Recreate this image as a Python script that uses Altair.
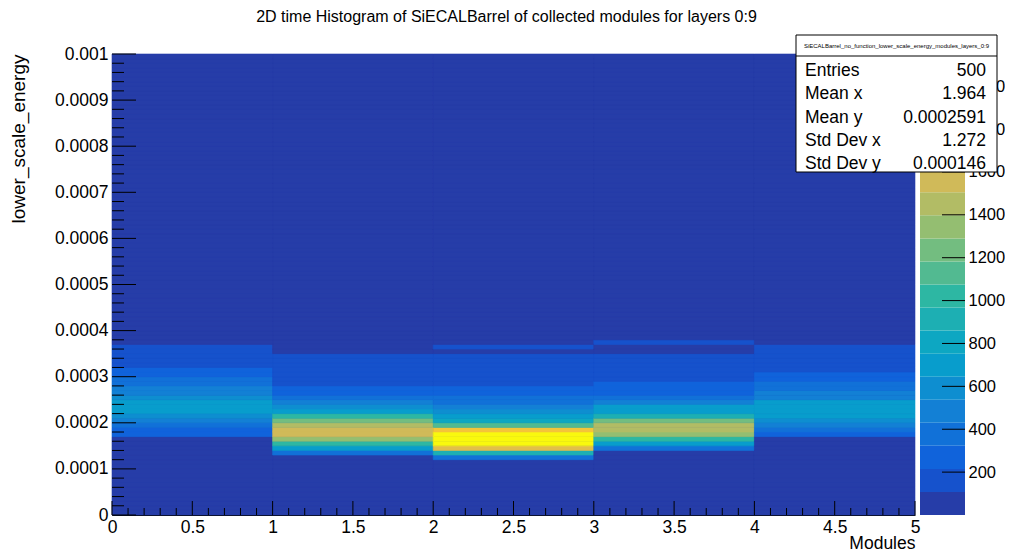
import altair as alt
import numpy as np
import pandas as pd

# ---------------- texts ----------------
TITLE = "2D time Histogram of SiECALBarrel of collected modules for layers 0:9"
HIST_NAME = "SiECALBarrel_no_function_lower_scale_energy_modules_layers_0:9"
X_TITLE = "Modules"
Y_TITLE = "lower_scale_energy"

# ---------------- histogram layout ----------------
N_MODULES = 5
N_YBINS = 100
Y_MIN, Y_MAX = 0.0, 0.001
Z_MIN, Z_MAX = 0.0, 2150.0
N_CONTOURS = 20

# bin contents per module (x bin), listed upward from the first filled y bin
mod0_first_bin = 17
mod0_counts = [270, 270, 380, 490, 590, 700, 710, 690, 590, 490, 480, 380, 370, 270, 260,
               160, 150, 160, 150, 140]
mod1_first_bin = 13
mod1_counts = [380, 700, 1020, 1340, 1570, 1550, 1420, 1240, 980, 710, 600, 490, 380, 270,
               265, 170, 160, 165, 150, 160, 155, 150]
mod2_first_bin = 12
mod2_counts = [380, 915, 1670, 2100, 2120, 2080, 1780, 1130, 800, 700, 590, 490, 380, 370,
               270, 260, 160, 150, 165, 155, 160, 150, 145, 0, 180]
mod3_first_bin = 14
mod3_counts = [390, 700, 1020, 1350, 1460, 1440, 1200, 900, 700, 650, 480, 420, 280, 270,
               250, 170, 160, 150, 160, 155, 150, 0, 0, 160]
mod4_first_bin = 17
mod4_counts = [270, 380, 490, 590, 700, 710, 690, 680, 520, 480, 380, 370, 270, 260, 160,
               150, 155, 165, 150, 145]

# axis tick labels
x_tick_labels = [0, 0.5, 1, 1.5, 2, 2.5, 3, 3.5, 4, 4.5, 5]
y_tick_labels = [0, 0.0001, 0.0002, 0.0003, 0.0004, 0.0005, 0.0006, 0.0007, 0.0008, 0.0009, 0.001]
z_tick_labels = [200, 400, 600, 800, 1000, 1200, 1400, 1600, 1800, 2000]

# statistics box
stat_names = ["Entries", "Mean x", "Mean y", "Std Dev x", "Std Dev y"]
stat_values = ["500", "1.964", "0.0002591", "1.272", "0.000146"]

# ---------------- palette (ROOT kBird, 20 contours) ----------------
stops = [0.0000, 0.1250, 0.2500, 0.3750, 0.5000, 0.6250, 0.7500, 0.8750, 1.0000]
red = [0.2082, 0.0592, 0.0780, 0.0232, 0.1802, 0.5301, 0.8186, 0.9956, 0.9764]
green = [0.1664, 0.3599, 0.5041, 0.6419, 0.7178, 0.7492, 0.7328, 0.7862, 0.9832]
blue = [0.5293, 0.8684, 0.8385, 0.7914, 0.6425, 0.4662, 0.3499, 0.1968, 0.0539]


def gradient(n=255):
    cols = []
    for g in range(1, len(stops)):
        nc = int(np.floor(n * stops[g]) - np.floor(n * stops[g - 1]))
        for c in range(nc):
            r = red[g - 1] + c * (red[g] - red[g - 1]) / nc
            gg = green[g - 1] + c * (green[g] - green[g - 1]) / nc
            b = blue[g - 1] + c * (blue[g] - blue[g - 1]) / nc
            cols.append("#%02x%02x%02x" % (int(r * 255), int(gg * 255), int(b * 255)))
    return cols


grad = gradient()
palette = [grad[int((i + 0.99) * len(grad) / N_CONTOURS)] for i in range(N_CONTOURS)]

# ---------------- tables ----------------
modules = [(mod0_first_bin, mod0_counts), (mod1_first_bin, mod1_counts),
           (mod2_first_bin, mod2_counts), (mod3_first_bin, mod3_counts),
           (mod4_first_bin, mod4_counts)]
yw = (Y_MAX - Y_MIN) / N_YBINS
rows = []
for m, (first, counts) in enumerate(modules):
    for j in range(N_YBINS):
        k = j - first
        z = counts[k] if 0 <= k < len(counts) else 0
        rows.append({"x0": m, "x1": m + 1, "y0": Y_MIN + j * yw, "y1": Y_MIN + (j + 1) * yw, "z": z})
hist_df = pd.DataFrame(rows)

zw = (Z_MAX - Z_MIN) / N_CONTOURS
cbar_df = pd.DataFrame({
    "lo": [Z_MIN + i * zw for i in range(N_CONTOURS)],
    "hi": [Z_MIN + (i + 1) * zw for i in range(N_CONTOURS)],
    "z": [Z_MIN + (i + 0.5) * zw for i in range(N_CONTOURS)],
})

y_minor = [round(i * 0.00002, 6) for i in range(51) if i % 5 != 0]
x_minor = [round(i * 0.1, 3) for i in range(51) if i % 5 != 0]

stats_df = pd.DataFrame({"name": stat_names, "value": stat_values, "row": list(range(len(stat_names)))})

# ---------------- chart ----------------
W, H = 803, 461
FONT = "Liberation Sans"
FS = 17.5

zscale = alt.Scale(type="quantize", domain=[Z_MIN, Z_MAX], range=palette, nice=False)


def xscale():
    return alt.Scale(domain=[0, N_MODULES], nice=False, zero=False)


def yscale():
    return alt.Scale(domain=[Y_MIN, Y_MAX], nice=False, zero=False)


def zaxis_scale():
    return alt.Scale(domain=[Z_MIN, Z_MAX], nice=False, zero=False)


heat = alt.Chart(hist_df).mark_rect(strokeWidth=0.6).encode(
    x=alt.X("x0:Q", scale=xscale(),
            axis=alt.Axis(orient="bottom", values=x_tick_labels, format="~g", title=X_TITLE,
                          ticks=False, labelPadding=3, labelFontSize=FS, titleFontSize=17.5,
                          titleX=W, titleY=28, titleAlign="right", titleBaseline="middle",
                          labelFlush=False)),
    x2="x1:Q",
    y=alt.Y("y0:Q", scale=yscale(),
            axis=alt.Axis(orient="left", values=y_tick_labels, format="~g", title=Y_TITLE,
                          ticks=False, labelPadding=4, labelFontSize=FS, titleFontSize=19,
                          titleX=-94, titleY=0, titleAngle=270, titleAlign="right",
                          titleBaseline="middle", labelFlush=False)),
    y2="y1:Q",
    color=alt.Color("z:Q", scale=zscale, legend=None),
    stroke=alt.Stroke("z:Q", scale=zscale, legend=None),
)

ymaj = alt.Chart(pd.DataFrame({"v": y_tick_labels})).mark_rule(color="black", strokeWidth=1).encode(
    y=alt.Y("v:Q", scale=yscale(), axis=None), x=alt.value(0), x2=alt.value(24))
ymin = alt.Chart(pd.DataFrame({"v": y_minor})).mark_rule(color="black", strokeWidth=1).encode(
    y=alt.Y("v:Q", scale=yscale(), axis=None), x=alt.value(0), x2=alt.value(12))
xmaj = alt.Chart(pd.DataFrame({"v": x_tick_labels})).mark_rule(color="black", strokeWidth=1).encode(
    x=alt.X("v:Q", scale=xscale(), axis=None), y=alt.value(H), y2=alt.value(H - 14))
xmin = alt.Chart(pd.DataFrame({"v": x_minor})).mark_rule(color="black", strokeWidth=1).encode(
    x=alt.X("v:Q", scale=xscale(), axis=None), y=alt.value(H), y2=alt.value(H - 7))

cbar = alt.Chart(cbar_df).mark_rect().encode(
    x=alt.value(808), x2=alt.value(853),
    y=alt.Y("lo:Q", scale=zaxis_scale(),
            axis=alt.Axis(orient="right", values=z_tick_labels, format="d", offset=50, ticks=False,
                          domain=False, labelPadding=3, labelFontSize=16.5, title=None,
                          labelFlush=False)),
    y2="hi:Q",
    color=alt.Color("z:Q", scale=zscale, legend=None),
)
cbar_ticks = alt.Chart(pd.DataFrame({"v": z_tick_labels})).mark_rule(color="black", strokeWidth=1).encode(
    y=alt.Y("v:Q", scale=zaxis_scale(), axis=None), x=alt.value(830), x2=alt.value(853))

one = pd.DataFrame({"a": [0]})
box = alt.Chart(one).mark_rect(fill="white", stroke="black", strokeWidth=1).encode(
    x=alt.value(684), x2=alt.value(885), y=alt.value(-19), y2=alt.value(118))
box_line = alt.Chart(one).mark_rule(color="black", strokeWidth=1).encode(
    x=alt.value(684), x2=alt.value(885), y=alt.value(2))
box_head = alt.Chart(one).mark_text(text=HIST_NAME, font=FONT, fontSize=6, color="black",
                                    align="center", baseline="middle").encode(
    x=alt.value(784.5), y=alt.value(-8.5))

row_scale = alt.Scale(domain=[0, len(stat_names) - 1], range=[17, 110])
stat_n = alt.Chart(stats_df).mark_text(font=FONT, fontSize=FS, color="black", align="left",
                                      baseline="middle").encode(
    x=alt.value(693), y=alt.Y("row:Q", scale=row_scale, axis=None), text="name:N")
stat_v = alt.Chart(stats_df).mark_text(font=FONT, fontSize=FS, color="black", align="right",
                                      baseline="middle").encode(
    x=alt.value(874), y=alt.Y("row:Q", scale=row_scale, axis=None), text="value:N")

chart = alt.layer(
    heat, ymaj, ymin, xmaj, xmin, cbar, cbar_ticks, box, box_line, box_head, stat_n, stat_v
).resolve_scale(
    x="independent", y="independent"
).properties(
    width=W, height=H,
    title=alt.TitleParams(text=TITLE, font=FONT, fontSize=16, fontWeight="normal",
                          color="black", anchor="middle", offset=10, dx=-7),
    autosize=alt.AutoSizeParams(type="none"),
    padding={"left": 104, "top": 46, "right": 90, "bottom": 36},
).configure_view(
    fill=palette[0], strokeWidth=0
).configure_axis(
    labelFont=FONT, titleFont=FONT, labelColor="black", titleColor="black",
    domainColor="black", domainWidth=1, titleFontWeight="normal", grid=False
)

chart.save("out.html", embed_options={"renderer": "svg", "actions": False})
